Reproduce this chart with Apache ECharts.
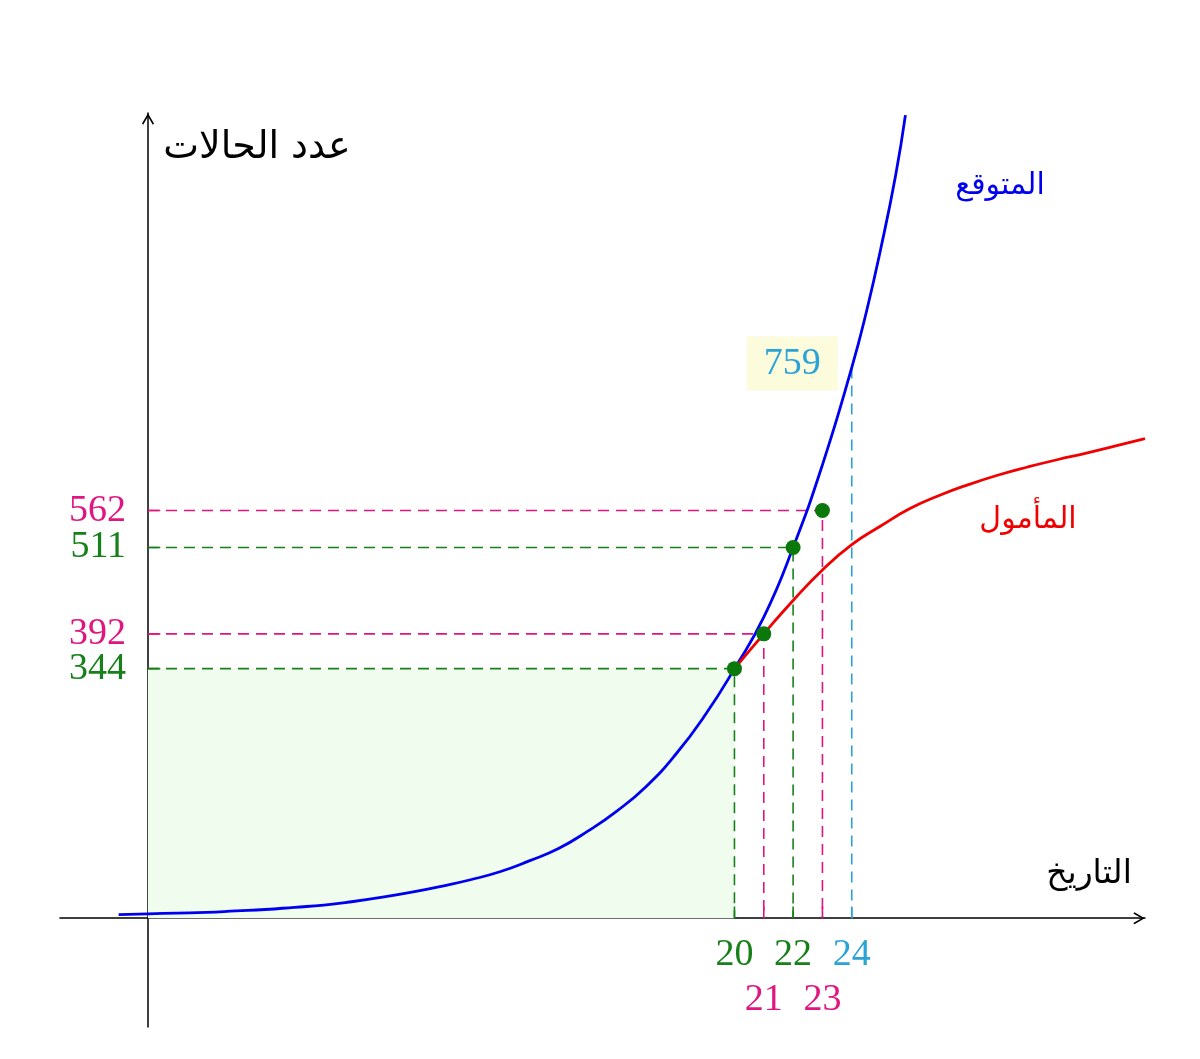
<!DOCTYPE html>
<html>
<head>
<meta charset="utf-8">
<script src="https://cdn.jsdelivr.net/npm/echarts@6/dist/echarts.min.js"></script>
<style>html,body{margin:0;padding:0;background:#fff}#c{width:1200px;height:1059px}</style>
</head>
<body>
<div id="c"></div>
<script>
// ---- data ----
const keyX = [20, 21, 22, 23, 24];
const keyY = [344, 392, 511, 562, 759];
const keyColorNames = ['g', 'm', 'g', 'm', 'c'];
const keyDot = [true, true, true, true, false];
const keyHorizontal = [true, true, true, true, false];
const keyLabelRow = [0, 1, 0, 1, 0];

const expectedX = [-1, 0, 1, 2, 3, 4, 5, 6, 7, 8, 9, 10, 11, 12, 13, 14, 15, 16, 17, 18, 19, 20, 21, 22, 23, 24, 24.5, 25, 25.5, 25.83];
const expectedY = [5, 6, 7, 8, 10, 12, 15, 18, 23, 29, 36, 44, 53, 64, 79, 96, 120, 148, 182, 226, 280, 344, 415, 511, 625, 759, 836, 925, 1025, 1107];

const hopedX = [20, 21, 22, 23, 24, 25, 26, 27, 28, 29, 30, 31, 32, 33, 34];
const hopedY = [344, 392, 438, 480, 515, 541, 565, 583, 598, 611, 622, 632, 641, 651, 661];

const yAxisTitle = 'عدد الحالات';
const xAxisTitle = 'التاريخ';
const expectedName = 'المتوقع';
const hopedName = 'المأمول';

// ---- styles ----
const COLORS = { g: '#17801a', m: '#e0157f', c: '#2aa3d6' };
const NUM_FONT = '"Liberation Serif", "DejaVu Serif", serif';
const AR_FONT = '"DejaVu Sans", sans-serif';
const arrowPath = 'path://M5,0L10,8.5L9,9.5L5,2.6L1,9.5L0,8.5Z';

const series = [];

// guides (dashed) + ticks
keyX.forEach((x, i) => {
  const y = keyY[i];
  const col = COLORS[keyColorNames[i]];
  const pts = keyHorizontal[i] ? [[0, y], [x, y], [x, 0]] : [[x, y], [x, 0]];
  series.push({
    type: 'line', data: pts, symbol: 'none', z: 2, silent: true,
    lineStyle: { color: col, width: 1.6, type: [11, 7] }
  });
  series.push({
    type: 'line', data: [[x, 0], [x, 16]], symbol: 'none', z: 2, silent: true,
    lineStyle: { color: col, width: 1.6 }
  });
  if (keyHorizontal[i]) {
    series.push({
      type: 'line', data: [[0, y], [0.42, y]], symbol: 'none', z: 2, silent: true,
      lineStyle: { color: col, width: 1.6 }
    });
  }
});

// expected (blue) with shaded rectangle
series.push({
  type: 'line', name: expectedName,
  data: expectedX.map((x, i) => [x, expectedY[i]]),
  smooth: 0.5, symbol: 'none', z: 5,
  lineStyle: { color: '#0000f0', width: 2.8 },
  markArea: {
    silent: true,
    itemStyle: { color: '#f0fcee' },
    data: [[{ coord: [0, 0] }, { coord: [keyX[0], keyY[0]] }]]
  }
});

// hoped (red)
series.push({
  type: 'line', name: hopedName,
  data: hopedX.map((x, i) => [x, hopedY[i]]),
  smooth: 0.5, symbol: 'none', z: 5,
  lineStyle: { color: '#f00000', width: 2.8 }
});

// dots
series.push({
  type: 'scatter', z: 10, symbolSize: 15,
  itemStyle: { color: '#0a780a', opacity: 1 },
  data: keyX.map((x, i) => [x, keyY[i]]).filter((d, i) => keyDot[i])
});

// y-axis value labels (at x = 0)
series.push({
  type: 'scatter', z: 10, symbolSize: 0, silent: true,
  itemStyle: { opacity: 1 },
  data: keyY.map((y, i) => ({
    value: [0, y],
    label: { color: COLORS[keyColorNames[i]] }
  })).filter((d, i) => keyHorizontal[i]),
  label: {
    show: true, position: 'left', distance: 22,
    formatter: (p) => String(p.value[1]),
    fontFamily: NUM_FONT, fontSize: 38
  }
});

// x-axis value labels (at y = 0), two rows
series.push({
  type: 'scatter', z: 10, symbolSize: 0, silent: true,
  itemStyle: { opacity: 1 },
  data: keyX.map((x, i) => ({
    value: [x, 0],
    label: { color: COLORS[keyColorNames[i]], distance: keyLabelRow[i] ? 63 : 18 }
  })),
  label: {
    show: true, position: 'bottom',
    formatter: (p) => String(p.value[0]),
    fontFamily: NUM_FONT, fontSize: 38
  }
});

// boxed 759 label
series.push({
  type: 'scatter', z: 10, symbolSize: 0, silent: true,
  itemStyle: { opacity: 1 },
  data: [[keyX[4], keyY[4]]],
  label: {
    show: true, position: 'left', distance: 14, offset: [0, -4],
    formatter: String(keyY[4]),
    color: COLORS.c, fontFamily: NUM_FONT, fontSize: 38,
    backgroundColor: '#fcfcdc', padding: [8, 17, 8, 17]
  }
});

const option = {
  animation: false,
  backgroundColor: '#ffffff',
  grid: { left: 60, right: 55, top: 113, bottom: 32, containLabel: false, outerBoundsMode: 'none' },
  xAxis: {
    type: 'value', min: -3, max: 34,
    splitLine: { show: false },
    axisTick: { show: false },
    axisLabel: { show: false },
    axisLine: {
      onZero: true, symbol: ['none', arrowPath], symbolSize: [12, 12], symbolOffset: [0, -6],
      lineStyle: { color: '#000', width: 1.5 }
    }
  },
  yAxis: {
    type: 'value', min: -150, max: 1110,
    splitLine: { show: false },
    axisTick: { show: false },
    axisLabel: { show: false },
    axisLine: {
      onZero: true, symbol: ['none', arrowPath], symbolSize: [12, 12], symbolOffset: [0, -6],
      lineStyle: { color: '#000', width: 1.5 }
    }
  },
  graphic: [
    { type: 'text', x: 257, y: 148, style: { text: yAxisTitle, fill: '#000', font: '38px ' + AR_FONT, align: 'center', verticalAlign: 'middle' } },
    { type: 'text', x: 1089, y: 874, style: { text: xAxisTitle, fill: '#000', font: '33px ' + AR_FONT, align: 'center', verticalAlign: 'middle' } },
    { type: 'text', x: 1000, y: 186, style: { text: expectedName, fill: '#0000f0', font: '30px ' + AR_FONT, align: 'center', verticalAlign: 'middle' } },
    { type: 'text', x: 1028, y: 520, style: { text: hopedName, fill: '#f00000', font: '30px ' + AR_FONT, align: 'center', verticalAlign: 'middle' } }
  ],
  series: series
};

const chart = echarts.init(document.getElementById('c'), null, { renderer: 'canvas' });
chart.setOption(option);
</script>
</body>
</html>
